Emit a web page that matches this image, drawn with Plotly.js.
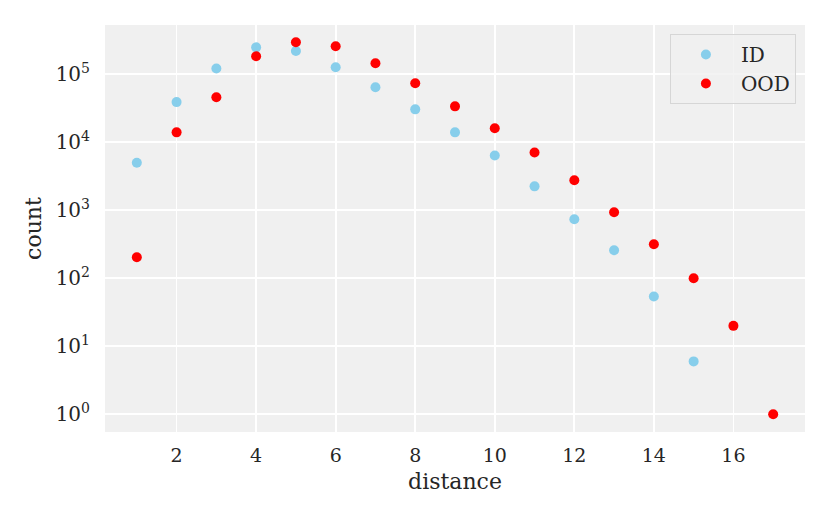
<!DOCTYPE html>
<html>
<head>
<meta charset="utf-8">
<script src="https://cdn.plot.ly/plotly-3.0.1.min.js"></script>
<style>
html,body{margin:0;padding:0;background:#fff;}
#chart{width:830px;height:519px;}
</style>
</head>
<body>
<div id="chart"></div>
<script>
// distance values
const idDistance = [1,2,3,4,5,6,7,8,9,10,11,12,13,14,15];
const idCount = [5000,39000,122000,249000,220000,127000,64500,30500,14000,6400,2250,740,258,54,6];
const oodDistance = [1,2,3,4,5,6,7,8,9,10,11,12,13,14,15,16,17];
const oodCount = [204,14000,46000,184000,296000,258000,145000,74000,33800,16100,7100,2760,935,316,100,20,1];
const yTickVals = [1,10,100,1000,10000,100000];
const yTickText = ['10<sup>0</sup>','10<sup>1</sup>','10<sup>2</sup>','10<sup>3</sup>','10<sup>4</sup>','10<sup>5</sup>'];
const xTickVals = [2,4,6,8,10,12,14,16];

const serif = 'DejaVu Serif';
const textColor = '#262626';

const traces = [
  {x: idDistance, y: idCount, name: 'ID', type: 'scatter', mode: 'markers',
   marker: {color: '#87CEEB', size: 10, line: {width: 0}}},
  {x: oodDistance, y: oodCount, name: 'OOD', type: 'scatter', mode: 'markers',
   marker: {color: '#FF0000', size: 10, line: {width: 0}}}
];

const layout = {
  width: 830, height: 519,
  margin: {l: 105, r: 25, t: 25, b: 87},
  paper_bgcolor: '#ffffff',
  plot_bgcolor: '#f0f0f0',
  font: {family: serif, color: textColor, size: 20},
  showlegend: true,
  legend: {
    x: 0.987, y: 0.978, xanchor: 'right', yanchor: 'top',
    bgcolor: 'rgba(240,240,240,0.8)', bordercolor: '#d6d6d6', borderwidth: 1,
    itemwidth: 60,
    font: {family: serif, size: 20, color: textColor}
  },
  xaxis: {
    range: [0.2, 17.8],
    tickmode: 'array', tickvals: xTickVals,
    showgrid: true, gridcolor: '#ffffff', gridwidth: 1.8,
    zeroline: false, showline: false,
    ticks: '', ticklabelstandoff: 10,
    tickfont: {family: serif, size: 19, color: textColor},
    title: {text: 'distance', font: {family: serif, size: 22, color: textColor}, standoff: 8}
  },
  yaxis: {
    type: 'log',
    range: [-0.26, 5.725],
    tickmode: 'array', tickvals: yTickVals, ticktext: yTickText,
    showgrid: true, gridcolor: '#ffffff', gridwidth: 1.8,
    zeroline: false, showline: false,
    ticks: '', ticklabelstandoff: 14,
    tickfont: {family: serif, size: 20, color: textColor},
    title: {text: 'count', font: {family: serif, size: 22, color: textColor}, standoff: 7}
  }
};

Plotly.newPlot('chart', traces, layout, {displayModeBar: false, staticPlot: true});
</script>
</body>
</html>
